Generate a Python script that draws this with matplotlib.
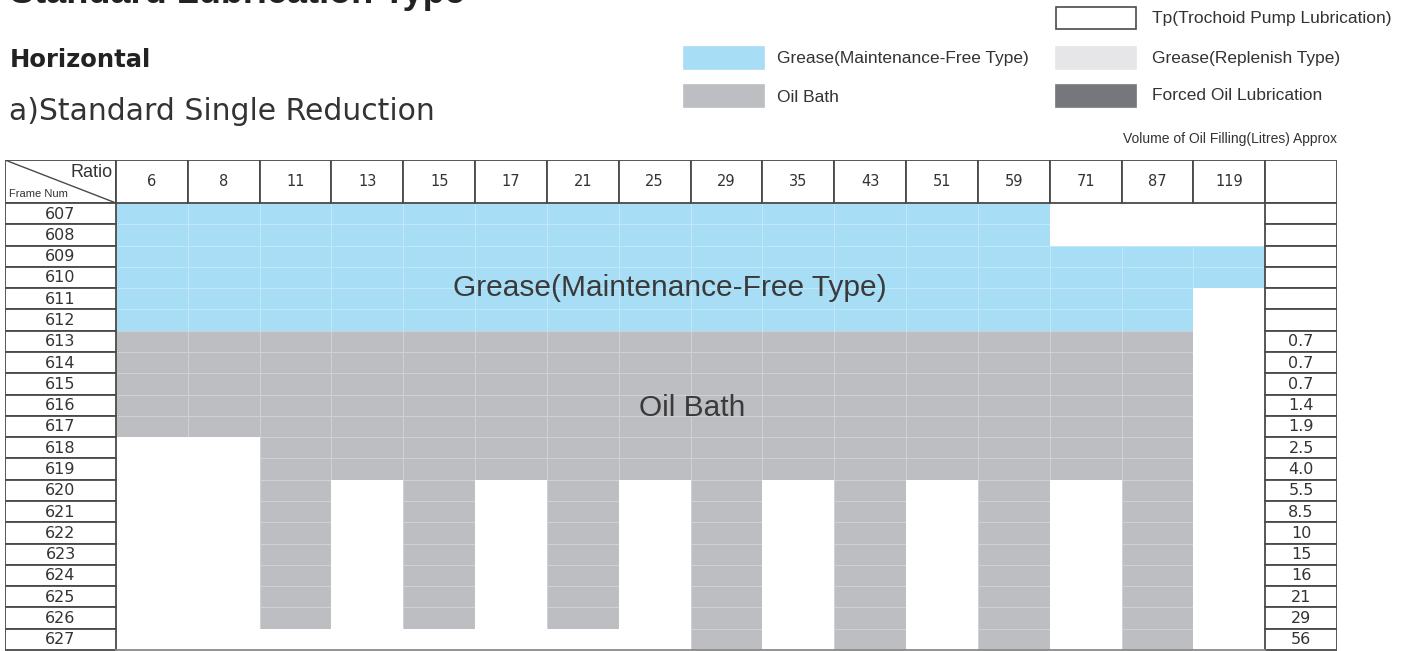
import numpy as np
import matplotlib
matplotlib.use("Agg")
import matplotlib.pyplot as plt
from matplotlib.colors import ListedColormap
from matplotlib.patches import Rectangle

plt.rcParams['font.family'] = ['Liberation Sans', 'DejaVu Sans']

# ---------------------------------------------------------------
# data read off the reference table
# ---------------------------------------------------------------
ratios = [6, 8, 11, 13, 15, 17, 21, 25, 29, 35, 43, 51, 59, 71, 87, 119]
frames = list(range(607, 628))

# one string per frame row, one char per ratio column
# G = grease (maintenance-free), O = oil bath, . = blank
lube_map = [
    "GGGGGGGGGGGGG...",  # 607
    "GGGGGGGGGGGGG...",  # 608
    "GGGGGGGGGGGGGGGG",  # 609
    "GGGGGGGGGGGGGGGG",  # 610
    "GGGGGGGGGGGGGGG.",  # 611
    "GGGGGGGGGGGGGGG.",  # 612
    "OOOOOOOOOOOOOOO.",  # 613
    "OOOOOOOOOOOOOOO.",  # 614
    "OOOOOOOOOOOOOOO.",  # 615
    "OOOOOOOOOOOOOOO.",  # 616
    "OOOOOOOOOOOOOOO.",  # 617
    "..OOOOOOOOOOOOO.",  # 618
    "..OOOOOOOOOOOOO.",  # 619
    "..O.O.O.O.O.O.O.",  # 620
    "..O.O.O.O.O.O.O.",  # 621
    "..O.O.O.O.O.O.O.",  # 622
    "..O.O.O.O.O.O.O.",  # 623
    "..O.O.O.O.O.O.O.",  # 624
    "..O.O.O.O.O.O.O.",  # 625
    "..O.O.O.O.O.O.O.",  # 626
    "........O.O.O.O.",  # 627
]

oil_volume = ["", "", "", "", "", "",
              "0.7", "0.7", "0.7", "1.4", "1.9", "2.5", "4.0",
              "5.5", "8.5", "10", "15", "16", "21", "29", "56"]

legend_left = ["Grease(Maintenance-Free Type)", "Oil Bath"]
legend_right = ["Tp(Trochoid Pump Lubrication)", "Grease(Replenish Type)",
                "Forced Oil Lubrication"]

# colours
c_grease = "#a7ddf5"
c_oil = "#bdbec2"
c_replenish = "#e6e6e8"
c_forced = "#76777a"
c_line = "#4a4a4a"
c_text = "#333333"
wide = "DejaVu Sans"

# ---------------------------------------------------------------
# figure
# ---------------------------------------------------------------
W, H = 1414, 651
fig = plt.figure(figsize=(W / 100, H / 100), dpi=100)

# table geometry in pixels -> axes units (1 unit = one ratio column / one row)
col_w = (1337 - 116) / 17
row_h = (650 - 203) / 21
fw = (116 - 5) / col_w
hh = (203 - 160) / row_h

ax = fig.add_axes([5 / W, 0, 1332 / W, 491 / H])
ax.set_xlim(-fw, 17)
ax.set_ylim(21 + 1 / row_h, -hh)
ax.axis("off")

codes = {".": 0, "G": 1, "O": 2}
Z = np.array([[codes[c] for c in row] for row in lube_map])
cmap = ListedColormap(["white", c_grease, c_oil])
ax.pcolormesh(np.arange(len(ratios) + 1), np.arange(len(frames) + 1), Z,
              cmap=cmap, vmin=0, vmax=2,
              edgecolors=(1, 1, 1, 0.3), linewidth=0.6)

# header row
ax.add_patch(Rectangle((-fw, -hh), fw, hh, fc="white", ec=c_line, lw=1.3))
ax.plot([-fw, 0], [-hh, 0], color=c_line, lw=1.0)
ax.text(-0.05, -hh * 0.72, "Ratio", ha="right", va="center", fontsize=13, color=c_text)
ax.text(-fw + 0.05, -hh * 0.2, "Frame Num", ha="left", va="center", fontsize=8, color=c_text)
for j, r in enumerate(ratios):
    ax.add_patch(Rectangle((j, -hh), 1, hh, fc="white", ec=c_line, lw=1.3))
    ax.text(j + 0.5, -hh / 2, str(r), ha="center", va="center",
            fontsize=10.5, color=c_text, family=wide)
ax.add_patch(Rectangle((16, -hh), 1, hh, fc="white", ec=c_line, lw=1.3))

# frame column and volume column
for i, f in enumerate(frames):
    ax.add_patch(Rectangle((-fw, i), fw, 1, fc="white", ec=c_line, lw=1.3))
    ax.text(-fw / 2, i + 0.52, str(f), ha="center", va="center",
            fontsize=11.5, color=c_text, family=wide)
    ax.add_patch(Rectangle((16, i), 1, 1, fc="white", ec=c_line, lw=1.3))
    ax.text(16.5, i + 0.52, oil_volume[i], ha="center", va="center",
            fontsize=11.5, color=c_text, family=wide)

ax.plot([0, 16], [21, 21], color="#8a8a8a", lw=1.3)

# labels on the coloured regions
ax.text(7.71, 3.99, legend_left[0], ha="center", va="center",
        fontsize=21.5, color="#3a3a3a")
ax.text(8.02, 9.63, legend_left[1], ha="center", va="center",
        fontsize=21.5, color="#3a3a3a")

# ---------------------------------------------------------------
# titles
# ---------------------------------------------------------------
fig.text(10 / W, 1 - 3 / H, "Standard Lubrication Type", fontsize=26,
         fontweight="bold", va="baseline", color="#222222")
fig.text(10 / W, 1 - 60 / H, "Horizontal", fontsize=17.5, fontweight="bold",
         va="center", color="#222222", family=wide)
fig.text(9 / W, 1 - 112 / H, "a)Standard Single Reduction", fontsize=21.5,
         va="center", color="#333333", family=wide)

# ---------------------------------------------------------------
# legend (swatches + labels)
# ---------------------------------------------------------------
def swatch(x0, y0, color, edge=None):
    fig.patches.append(Rectangle((x0 / W, 1 - (y0 + 22) / H), 80 / W, 22 / H,
                                 transform=fig.transFigure, fc=color,
                                 ec=edge if edge else color, lw=1.2))

swatch(684, 47, c_grease)
swatch(684, 85, c_oil)
fig.text(777 / W, 1 - 58 / H, legend_left[0], fontsize=12.5, va="center",
         color=c_text)
fig.text(777 / W, 1 - 97 / H, legend_left[1], fontsize=12.5, va="center",
         color=c_text)

swatch(1056, 7, "white", c_line)
swatch(1056, 47, c_replenish)
swatch(1056, 85, c_forced)
for k, y in enumerate([18, 58, 96]):
    fig.text(1152 / W, 1 - y / H, legend_right[k], fontsize=12.5, va="center",
             color=c_text)

fig.text(1337 / W, 1 - 139 / H, "Volume of Oil Filling(Litres) Approx",
         fontsize=10, ha="right", va="center", color=c_text)

fig.savefig("out.png", dpi=100, facecolor="white")
